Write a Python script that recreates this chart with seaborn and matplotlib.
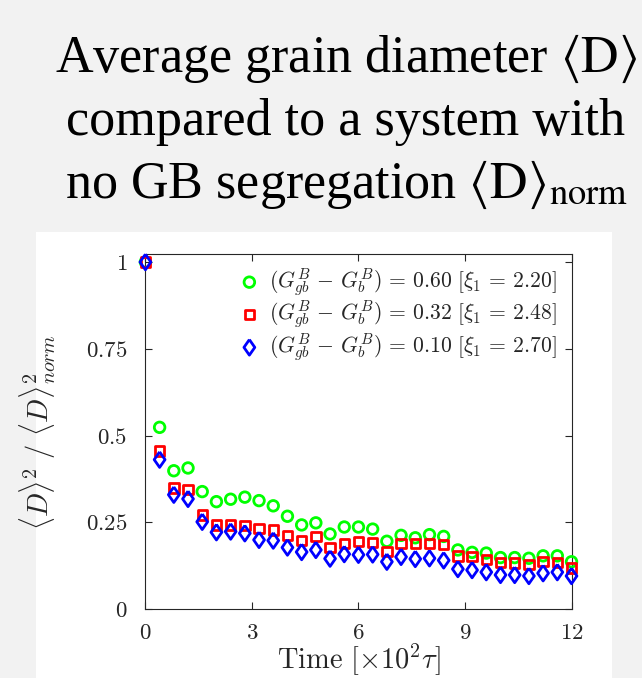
import numpy as np
import pandas as pd
import seaborn as sns
import matplotlib.pyplot as plt
from matplotlib.patches import Rectangle
from matplotlib.ticker import FixedLocator, FuncFormatter

sns.set_theme(style="ticks")
plt.rcParams['font.family'] = ['Liberation Serif', 'DejaVu Serif']
plt.rcParams['mathtext.fontset'] = 'cm'

# time in units of 10^2 tau
time = [0.0, 0.4, 0.8, 1.2, 1.6, 2.0, 2.4, 2.8, 3.2, 3.6, 4.0, 4.4, 4.8, 5.2, 5.6, 6.0,
        6.4, 6.8, 7.2, 7.6, 8.0, 8.4, 8.8, 9.2, 9.6, 10.0, 10.4, 10.8, 11.2, 11.6, 12.0]

# <D>^2 / <D>^2_norm for three segregation energies
gb060 = [1.0, 0.524, 0.399, 0.407, 0.339, 0.310, 0.317, 0.323, 0.313, 0.298, 0.268,
         0.243, 0.249, 0.217, 0.237, 0.237, 0.231, 0.196, 0.213, 0.206, 0.215, 0.210,
         0.171, 0.164, 0.162, 0.149, 0.149, 0.147, 0.154, 0.154, 0.137]
gb032 = [1.0, 0.456, 0.349, 0.345, 0.272, 0.243, 0.243, 0.241, 0.232, 0.228, 0.213,
         0.198, 0.209, 0.178, 0.190, 0.195, 0.192, 0.167, 0.189, 0.189, 0.189, 0.186,
         0.153, 0.152, 0.144, 0.134, 0.133, 0.129, 0.137, 0.135, 0.119]
gb010 = [1.0, 0.431, 0.330, 0.318, 0.252, 0.222, 0.224, 0.219, 0.200, 0.198, 0.178,
         0.165, 0.171, 0.146, 0.159, 0.157, 0.158, 0.137, 0.151, 0.145, 0.147, 0.141,
         0.116, 0.113, 0.107, 0.099, 0.099, 0.096, 0.104, 0.107, 0.096]

labels = [r"$(G^B_{gb}\, -\, G^B_b) \,=\, 0.60\ [\xi_1 \,=\, 2.20]$",
          r"$(G^B_{gb}\, -\, G^B_b) \,=\, 0.32\ [\xi_1 \,=\, 2.48]$",
          r"$(G^B_{gb}\, -\, G^B_b) \,=\, 0.10\ [\xi_1 \,=\, 2.70]$"]
colors = ['#00ff00', '#ff0000', '#0000ff']

xticks = [0, 3, 6, 9, 12]
yticks = [0, 0.25, 0.5, 0.75, 1]

title_lines = [r"Average grain diameter $\langle\mathrm{D}\rangle$",
               "compared to a system with",
               r"no GB segregation $\langle\mathrm{D}\rangle_{\mathrm{norm}}$"]

diamond = [(0, 1), (0.7, 0), (0, -1), (-0.7, 0), (0, 1)]

fig = plt.figure(figsize=(6.42, 6.78), dpi=100)
fig.patch.set_facecolor('#f2f2f2')
fig.add_artist(Rectangle((36 / 642, 0), 576 / 642, 446 / 678, transform=fig.transFigure,
                         facecolor='white', edgecolor='none', zorder=0))

# title, three lines of serif text
for txt, yb in zip(title_lines, [72, 135, 198]):
    fig.text(0.539, 1 - yb / 678, txt, ha='center', va='baseline', fontsize=37.5,
             family='Liberation Serif', math_fontfamily='stix', color='black')

ax = fig.add_axes([0.2265, 0.1013, 0.6637, 0.524])

sns.scatterplot(x=time, y=gb060, marker='o', s=58, facecolor='none', edgecolor=colors[0],
                linewidth=2.0, label=labels[0], ax=ax, zorder=3, clip_on=False)
sns.scatterplot(x=time, y=gb032, marker='s', s=46, facecolor='none', edgecolor=colors[1],
                linewidth=2.0, label=labels[1], ax=ax, zorder=4, clip_on=False)
sns.scatterplot(x=time, y=gb010, marker=diamond, s=125, facecolor='none', edgecolor=colors[2],
                linewidth=2.0, label=labels[2], ax=ax, zorder=5, clip_on=False)

ax.set_xlim(0, 12)
ax.set_ylim(0, 1.023)
ax.xaxis.set_major_locator(FixedLocator(xticks))
ax.yaxis.set_major_locator(FixedLocator(yticks))
fmt = FuncFormatter(lambda v, p: f"${v:g}$")
ax.xaxis.set_major_formatter(fmt)
ax.yaxis.set_major_formatter(fmt)
ax.tick_params(direction='in', top=True, right=True, length=5, width=0.8,
               color='#262626', labelcolor='#262626', labelsize=16.5)
ax.tick_params(axis='y', pad=13)
ax.tick_params(axis='x', pad=10)
for sp in ax.spines.values():
    sp.set_color('#262626')
    sp.set_linewidth(0.8)
    sp.set_visible(True)

ax.set_xlabel(r"$\mathrm{Time}\ [\times 10^2 \tau]$", fontsize=20.5, color='#262626')
ax.set_ylabel(r"$\langle D\rangle^2\ /\ \langle D\rangle^2_{norm}$", fontsize=20.5, color='#262626')
ax.yaxis.set_label_coords(-0.205, 0.5)
ax.xaxis.label.set_verticalalignment('center')
ax.xaxis.set_label_coords(0.5, -(660 - 609.3) / 355.3)

ax.legend(loc='upper right', bbox_to_anchor=(0.985, 0.99), frameon=False, fontsize=15.6,
          handletextpad=0.4, labelspacing=0.0, borderaxespad=0, scatterpoints=1,
          handlelength=1.0)

fig.savefig('out.png', dpi=100, facecolor=fig.get_facecolor())
